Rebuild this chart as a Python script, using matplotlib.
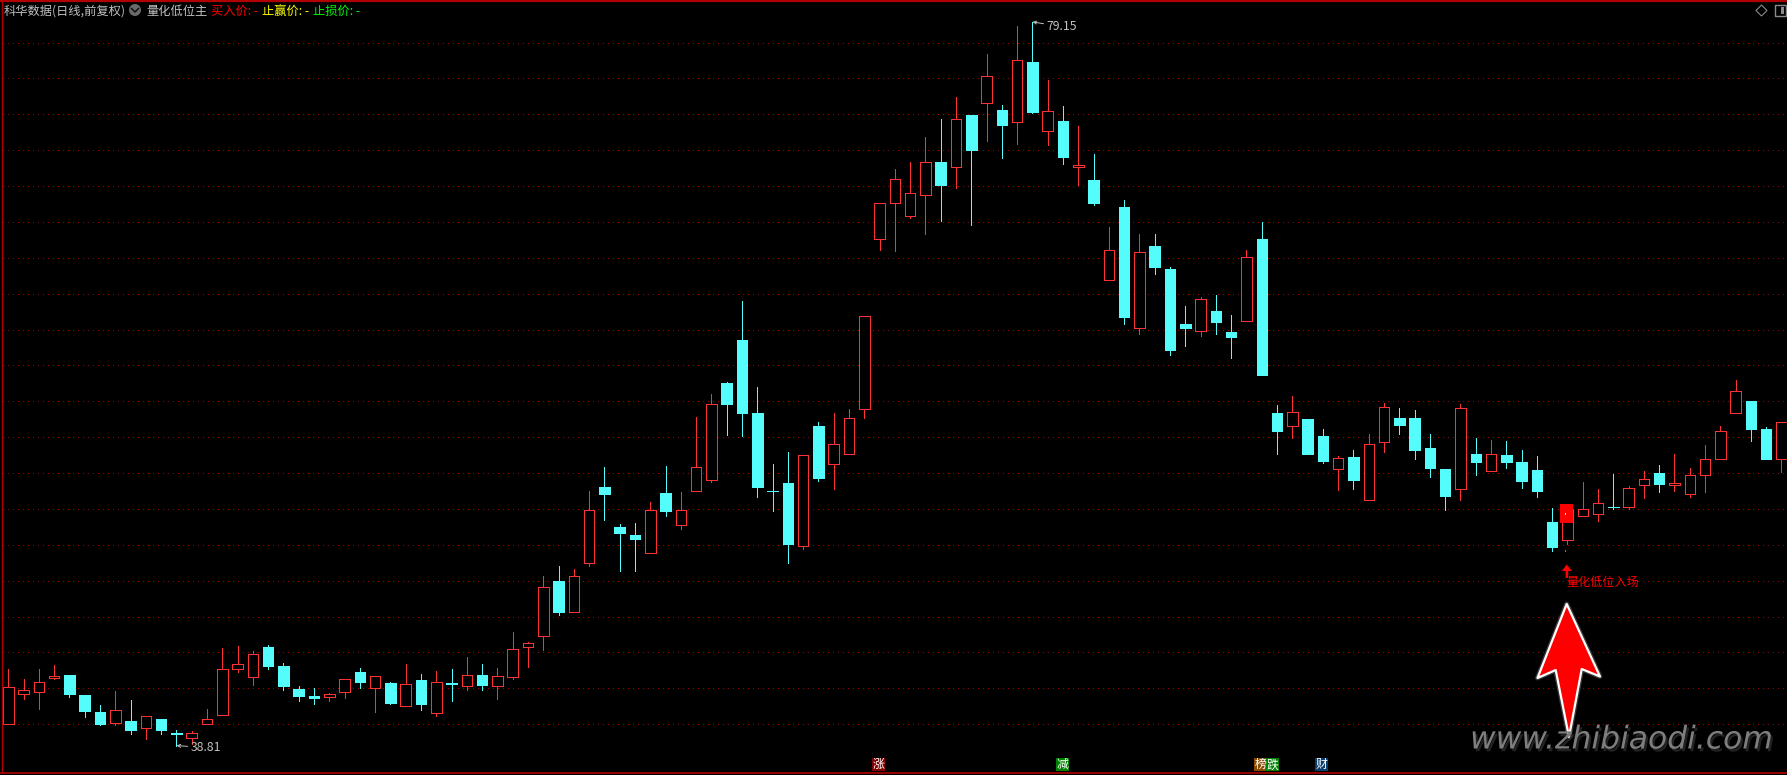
import matplotlib
matplotlib.use("Agg")
import matplotlib.pyplot as plt
from matplotlib.patches import Rectangle, Polygon, Circle
from matplotlib.transforms import Affine2D
import matplotlib.patheffects as pe

plt.rcParams['font.family'] = ['Noto Sans CJK SC', 'DejaVu Sans']

opens = [40.00,41.67,41.78,42.59,42.74,41.63,40.69,40.06,40.19,39.78,
 40.30,39.50,39.22,40.00,40.50,43.06,42.61,44.30,43.24,41.96,
 41.56,41.54,41.81,42.91,42.00,42.28,41.00,42.46,40.61,42.29,
 42.15,42.74,42.15,42.65,44.28,44.93,47.96,46.26,48.98,53.24,
 51.00,50.56,49.54,52.91,51.09,52.98,53.59,59.02,61.41,57.35,
 53.02,53.46,49.93,56.63,54.48,55.04,57.56,67.06,69.06,68.31,
 69.50,71.33,71.06,73.96,74.61,74.22,73.56,76.91,73.06,73.63,
 71.06,70.33,64.76,68.83,62.06,66.63,65.35,62.30,61.93,63.02,
 61.85,62.48,67.07,57.37,56.61,57.04,56.04,54.22,54.87,52.50,
 55.72,57.09,57.09,55.37,54.20,53.11,55.04,54.11,54.98,54.59,
 54.15,51.26,50.28,51.61,51.72,52.13,52.11,53.33,53.98,53.31,
 52.83,53.89,54.78,57.33,58.04,56.48,54.78]
closes = [42.06,41.89,42.33,42.67,41.70,40.76,40.04,40.78,39.65,40.44,
 39.65,39.43,39.50,40.28,43.06,43.33,43.89,43.26,42.15,41.59,
 41.48,41.67,42.50,42.37,42.67,41.20,42.22,41.15,42.33,42.25,
 42.72,42.19,42.67,44.19,44.50,47.67,46.24,48.28,51.94,52.81,
 50.65,50.31,51.94,51.87,51.94,54.33,57.83,57.85,57.35,53.24,
 52.98,50.02,55.00,53.74,55.61,57.06,62.78,69.06,70.39,69.61,
 71.33,70.04,73.72,71.98,76.11,73.41,77.00,74.15,74.17,71.59,
 71.17,69.04,66.44,62.70,66.33,65.48,60.87,62.07,63.72,62.41,
 61.57,66.06,59.46,56.37,57.41,55.09,54.65,54.85,53.59,55.63,
 57.69,56.70,55.26,54.26,52.70,57.63,54.59,55.07,54.59,53.54,
 52.98,49.87,52.00,52.02,52.35,52.09,53.19,53.69,53.37,53.43,
 53.91,54.80,56.35,58.57,56.43,54.81,56.85]
highs = [43.06,42.50,43.06,43.28,42.74,41.63,41.07,41.85,41.35,40.44,
 40.30,39.67,39.61,40.85,44.24,44.35,44.06,44.41,43.41,42.13,
 42.00,41.72,42.50,43.13,42.67,42.33,43.35,42.80,42.96,43.07,
 43.74,43.35,43.13,45.13,44.57,48.24,48.80,48.67,53.02,54.35,
 51.17,51.22,52.41,54.41,52.94,57.11,58.41,59.07,63.57,58.80,
 54.52,55.19,55.00,56.83,57.35,57.56,62.78,69.06,70.96,71.33,
 72.74,73.72,74.94,73.96,77.35,74.50,78.91,79.15,75.91,74.46,
 73.35,71.80,67.74,69.24,67.35,67.30,65.46,63.30,63.80,63.91,
 62.80,66.41,68.02,57.80,58.31,57.04,56.48,54.93,55.26,56.20,
 57.93,57.65,57.54,56.20,54.20,57.87,55.98,55.87,55.76,55.26,
 54.93,52.04,52.10,53.48,53.09,53.93,53.26,54.09,54.43,55.04,
 54.26,55.54,56.65,59.20,58.04,56.54,56.85]
lows = [40.00,41.41,40.87,42.54,41.54,40.43,39.93,39.98,39.48,39.20,
 39.43,38.81,38.91,40.00,40.50,42.93,42.20,43.09,41.93,41.30,
 41.15,41.31,41.48,42.04,40.70,41.15,41.00,40.81,40.48,41.30,
 41.93,41.91,41.41,42.52,43.20,44.15,46.09,46.26,48.81,51.37,
 48.54,48.54,49.54,51.59,50.87,52.98,53.48,56.13,56.07,52.69,
 51.91,48.96,49.74,53.57,53.13,55.04,57.07,66.46,66.37,68.24,
 67.35,68.07,69.91,67.85,72.52,71.57,72.35,74.07,72.30,71.24,
 70.07,68.96,64.76,62.30,61.74,65.07,60.57,61.07,61.65,61.74,
 60.41,62.48,59.46,55.04,55.98,55.04,54.54,53.04,53.09,52.50,
 55.15,56.20,54.76,53.76,51.93,52.48,53.87,54.11,54.26,53.15,
 52.65,49.65,50.04,51.61,51.31,52.00,52.00,52.59,52.93,52.98,
 52.65,52.93,54.78,57.33,55.81,54.81,54.04]

grid_levels = list(range(40, 80, 2))
low_mark_idx, low_mark_val, low_mark_txt = 11, 38.81, "38.81"
high_mark_idx, high_mark_val, high_mark_txt = 67, 79.15, "79.15"
signal_idx = 102
signal_label = "量化低位入场"
signal_box = (51.22, 52.26)

header_items = [("科华数据(日线,前复权)", 4, "#c0c0c0"), ("量化低位主", 146, "#c0c0c0"),
                ("买入价: -", 211, "#ff0000"), ("止赢价: -", 262, "#ffff00"), ("止损价: -", 313, "#00ff00")]
event_tags = [("涨", 872, "#800000"), ("减", 1056, "#008000"), ("榜", 1254, "#8a4b00"),
              ("跌", 1266, "#008000"), ("财", 1315, "#0b3c6e")]
watermark = "www.zhibiaodi.com"

RED = "#ff3232"; CYAN = "#54fcfc"; BG = "#000000"; BORDER = "#b00000"
W, H = 1787, 775
fig = plt.figure(figsize=(W/100, H/100), dpi=100, facecolor=BG)
ax = fig.add_axes([0, 0, 1, 1], facecolor=BG)
ax.set_xlim(-8.3/15.286, (W-8.3)/15.286)
ax.set_ylim(78-(H-42.5)/17.94, 78+42.5/17.94)
ax.axis('off')

px = Affine2D().scale(1/W, -1/H).translate(0, 1) + fig.transFigure

# dotted grid
for g in grid_levels:
    ax.plot([ax.get_xlim()[0]+3/15.286, ax.get_xlim()[1]], [g, g], color="#a00000", lw=0.72,
            dashes=(1.0, 5.0), zorder=1, dash_capstyle='butt', antialiased=False)

bw = 10.5/15.286
for i, (o, c, h, l) in enumerate(zip(opens, closes, highs, lows)):
    top, bot = max(o, c), min(o, c)
    col = RED if c > o else CYAN
    ax.vlines(i, top, h, color=col, lw=0.72, zorder=3, antialiased=False)
    ax.vlines(i, l, bot, color=col, lw=0.72, zorder=3, antialiased=False)
    if c > o:
        ax.add_patch(Rectangle((i-bw/2, bot), bw, top-bot, fc=BG, ec=col, lw=0.72, zorder=4, antialiased=False))
    else:
        ax.add_patch(Rectangle((i-bw/2, bot), bw, top-bot, fc=col, ec=col, lw=0.6, zorder=4, antialiased=False))

# buy-signal marker
ax.add_patch(Rectangle((signal_idx-0.49, signal_box[0]), 0.85, signal_box[1]-signal_box[0],
                       fc="#ff0000", ec="#ff0000", lw=0, zorder=5))
ax.add_patch(Rectangle((1565, 512.5), 1.4, 2.2, fc="#ffff00", lw=0, transform=px, zorder=6))
ax.add_patch(Rectangle((1565, 550), 1.4, 2, fc="#00d000", lw=0, transform=px, zorder=6))
ax.add_patch(Polygon([(1566.7, 564.5), (1572, 571), (1568.2, 571), (1568.2, 578), (1565.6, 578),
                      (1565.6, 571), (1561.8, 571)], fc="#ff0000", lw=0, transform=px, zorder=6))
ax.text(1566, 582.5, signal_label, color="#ff0000", fontsize=8.7, transform=px, va='center', ha='left', zorder=6)

# hi/lo marks
gray = "#c0c0c0"
ax.annotate(low_mark_txt, xy=(low_mark_idx, low_mark_val), xytext=(10, -1.5), textcoords='offset points',
            color=gray, fontsize=8.8, va='center', ha='left', zorder=6,
            arrowprops=dict(arrowstyle='->,head_width=0.12,head_length=0.25', color=gray, lw=0.7,
                            shrinkA=0, shrinkB=0))
ax.annotate(high_mark_txt, xy=(high_mark_idx, high_mark_val), xytext=(10, -3.5), textcoords='offset points',
            color=gray, fontsize=8.8, va='center', ha='left', zorder=6,
            arrowprops=dict(arrowstyle='->,head_width=0.12,head_length=0.25', color=gray, lw=0.7,
                            shrinkA=0, shrinkB=0))

# big arrow
arrow = [(1566.7, 604), (1600, 676.5), (1581.7, 669), (1569, 737), (1555.7, 670), (1537.5, 678)]
ax.add_patch(Polygon(arrow, closed=True, fc="#ff0000", ec="#ffffff", lw=1.6, joinstyle='round',
                     transform=px, zorder=7,
                     path_effects=[pe.Stroke(linewidth=3.5, foreground="#3a3a3a"), pe.Normal()]))

# watermark
ax.text(1470, 740, watermark, color="#7e7e7e", fontsize=22.6, style='italic', family='DejaVu Sans',
        transform=px, va='center', ha='left', zorder=8,
        path_effects=[pe.withSimplePatchShadow(offset=(1.5, -2), shadow_rgbFace="#3a3a3a", alpha=0.6)])

# header
for s, x, col in header_items:
    ax.text(x, 11.5, s, color=col, fontsize=8.8, transform=px, va='center', ha='left', zorder=9)
ax.add_patch(Circle((135, 10), 6, fc="#6a6a6a", lw=0, transform=px, zorder=9))
ax.plot([131.5, 135, 138.5], [8.5, 12, 8.5], color="#101010", lw=1.1, transform=px, zorder=10)

# top-right icons
ax.add_patch(Polygon([(1761.5, 5), (1767, 10.5), (1761.5, 16), (1756, 10.5)], fc='none', ec="#8a8a8a", lw=0.8,
                     transform=px, zorder=9))
ax.add_patch(Rectangle((1774.5, 5), 11, 10.5, fc='none', ec="#8a8a8a", lw=1.0, transform=px, zorder=9))
ax.add_patch(Rectangle((1781, 7), 3, 7, fc="#8a8a8a", lw=0, transform=px, zorder=9))

# bottom tags
for s, x, col in event_tags:
    ax.add_patch(Rectangle((x, 758), 13, 13, fc=col, lw=0, transform=px, zorder=9))
    ax.text(x+6.5, 764.8, s, color="#ffffff", fontsize=8.6, transform=px, va='center', ha='center', zorder=10)

# border
for xs, ys, lw in [([0, W], [0.8, 0.8], 1.6), ([0, W], [772.5, 772.5], 1.2), ([1.5, 1.5], [0, 773], 1.0)]:
    ax.plot(xs, ys, color=BORDER, lw=lw, transform=px, zorder=11, solid_capstyle='butt')

fig.savefig("out.png", dpi=100, facecolor=BG)
